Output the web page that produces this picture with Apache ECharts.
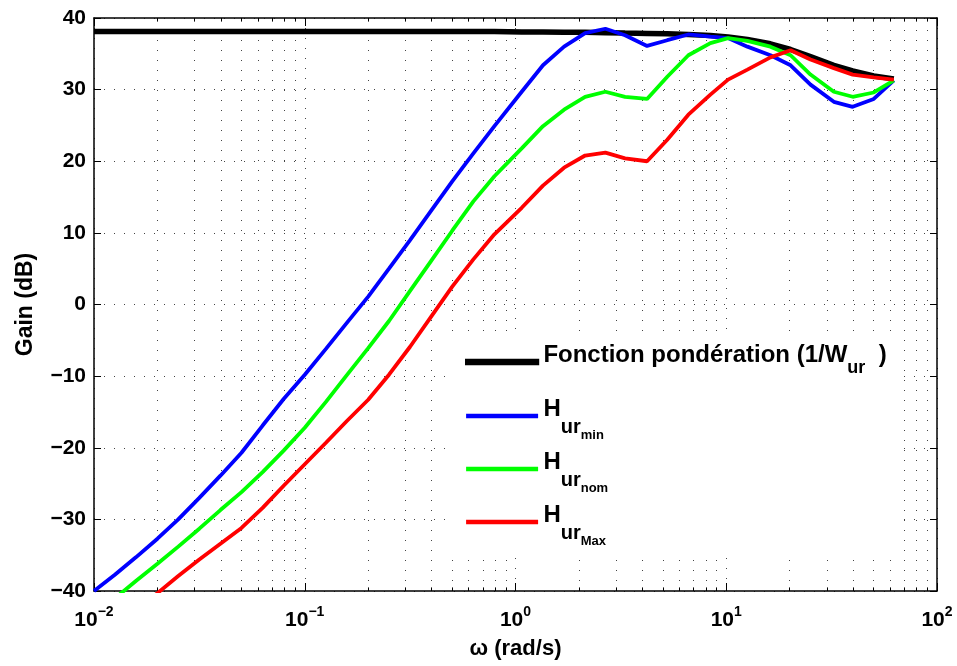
<!DOCTYPE html>
<html><head><meta charset="utf-8">
<script src="https://cdn.jsdelivr.net/npm/echarts@6/dist/echarts.min.js"></script>
<style>html,body{margin:0;padding:0;background:#fff}#c{width:957px;height:666px}</style>
</head><body><div id="c"></div>
<script>
// frequency points (rad/s)
const omega = [0.01, 0.0126, 0.0158, 0.02, 0.0251, 0.0316, 0.0398, 0.0501, 0.0631, 0.0794,
  0.1, 0.126, 0.158, 0.2, 0.251, 0.316, 0.398, 0.501, 0.631, 0.794,
  1.07, 1.35, 1.70, 2.14, 2.67, 3.31, 4.21, 5.25, 6.61, 8.41,
  10.2, 12.6, 16.2, 20.2, 25.1, 32.4, 39.8, 50.1, 62.4];
// weighting function 1/W_ur (dB)
const gainW = [38.1, 38.1, 38.1, 38.1, 38.1, 38.1, 38.1, 38.1, 38.1, 38.1,
  38.1, 38.1, 38.1, 38.1, 38.1, 38.1, 38.1, 38.1, 38.1, 38.1,
  38.05, 38.05, 38.0, 38.0, 37.95, 37.9, 37.85, 37.8, 37.7, 37.55,
  37.35, 37.0, 36.4, 35.6, 34.6, 33.4, 32.6, 31.9, 31.5];
// H_ur min
const gainMin = [-40, -37.7, -35.3, -32.7, -30.0, -27.0, -23.9, -20.7, -16.9, -13.2,
  -9.8, -6.2, -2.6, 1.1, 5.0, 9.0, 13.1, 17.2, 21.1, 24.9,
  29.7, 33.4, 36.0, 37.9, 38.5, 37.6, 36.1, 36.9, 37.7, 37.4,
  37.2, 36.0, 34.8, 33.4, 30.7, 28.3, 27.6, 28.7, 31.3];
// H_ur nom
const gainNom = [-43.5, -41.0, -38.6, -36.2, -33.8, -31.3, -28.7, -26.2, -23.4, -20.4,
  -17.2, -13.6, -9.9, -6.1, -2.3, 1.9, 6.1, 10.3, 14.4, 17.9,
  21.8, 24.9, 27.2, 29.0, 29.7, 29.0, 28.7, 31.8, 34.8, 36.5,
  37.2, 36.8, 36.0, 34.8, 32.1, 29.7, 29.0, 29.6, 31.3];
// H_ur Max
const gainMax = [-47.5, -45.0, -42.6, -40.3, -37.9, -35.6, -33.4, -31.2, -28.4, -25.3,
  -22.3, -19.3, -16.3, -13.3, -9.8, -5.9, -1.7, 2.5, 6.3, 9.8,
  13.5, 16.6, 19.1, 20.8, 21.2, 20.4, 20.0, 23.0, 26.5, 29.3,
  31.4, 32.8, 34.5, 35.5, 34.2, 33.0, 32.1, 31.7, 31.4];

const seriesNames = ['W', 'Hmin', 'Hnom', 'HMax'];
const seriesColors = ['#000000', '#0000ff', '#00ff00', '#ff0000'];
const legendLabels = {
  W: '{z| }{t|Fonction pondération (1/W}{s1|ur}{t|  )}',
  Hmin: '{z| }{t|H}{s2|ur}{s3|min}',
  Hnom: '{z| }{t|H}{s2|ur}{s3|nom}',
  HMax: '{z| }{t|H}{s2|ur}{s3|Max}'
};
const yMin = -40, yMax = 40, yStep = 10;
const xMin = 0.01, xMax = 100;

const FONT = '"Liberation Sans", Arial, Helvetica, sans-serif';
const minorVals = [];
for (let d = -2; d < 2; d++) for (let k = 2; k <= 9; k++) minorVals.push(+(k * Math.pow(10, d)).toPrecision(3));

const pairs = arr => omega.map((w, i) => [w, arr[i]]);
const gains = [gainW, gainMin, gainNom, gainMax];
const widths = [5.5, 3.8, 3.8, 3.8];

const dotted = {color: '#444', width: 1, type: [1, 9]};
const markData = [];
minorVals.forEach(v => markData.push({xAxis: v, lineStyle: dotted}));
minorVals.forEach(v => {
  markData.push([{coord: [v, yMin], lineStyle: {color: '#000', width: 1, type: 'solid'}}, {coord: [v, yMin + 0.5]}]);
  markData.push([{coord: [v, yMax], lineStyle: {color: '#000', width: 1, type: 'solid'}}, {coord: [v, yMax - 0.5]}]);
});

const supLabel = v => {
  const e = Math.round(Math.log10(v));
  return '{b|10}{p|' + (e < 0 ? '\u2212' : '') + Math.abs(e) + '}';
};

const series = [{
  name: 'grid', type: 'line', data: [], silent: true, z: 1,
  markLine: {silent: true, symbol: ['none', 'none'], label: {show: false}, animation: false, z: 1,
    emphasis: {disabled: true}, data: markData}
}];
seriesNames.forEach((n, i) => series.push({
  name: n, type: 'line', data: pairs(gains[i]), showSymbol: false, symbol: 'none',
  lineStyle: {color: seriesColors[i], width: widths[i]}, itemStyle: {color: seriesColors[i]},
  z: 2 + i, clip: true, silent: true
}));

const legendData = seriesNames.map((n, i) => ({
  name: n, icon: 'rect',
  itemStyle: {color: seriesColors[i], borderColor: seriesColors[i], borderWidth: i === 0 ? 2.2 : 0}
}));

const txt = (size, extra) => Object.assign({fontSize: size, fontWeight: 'bold', fontFamily: FONT, color: '#000'}, extra);

const chart = echarts.init(document.getElementById('c'));
chart.setOption({
  animation: false,
  textStyle: {fontFamily: FONT},
  grid: {left: 94, right: 20, top: 18, bottom: 75},
  xAxis: [{
    type: 'log', logBase: 10, min: xMin, max: xMax, position: 'bottom',
    name: 'ω (rad/s)', nameLocation: 'middle', nameGap: 47,
    nameTextStyle: txt(22),
    axisLine: {show: true, onZero: false, lineStyle: {color: '#000', width: 1.5}},
    axisTick: {show: true, inside: true, length: 8, lineStyle: {color: '#000', width: 1}},
    axisLabel: {margin: 14, color: '#000', formatter: supLabel,
      rich: {
        b: txt(21, {lineHeight: 24, verticalAlign: 'top', padding: [5, 0, 0, 0]}),
        p: txt(14, {lineHeight: 14, verticalAlign: 'top'})
      }},
    splitLine: {show: true, lineStyle: dotted}
  }, {
    type: 'log', logBase: 10, min: xMin, max: xMax, position: 'top',
    axisLine: {show: true, onZero: false, lineStyle: {color: '#000', width: 1.5}},
    axisTick: {show: true, inside: true, length: 8, lineStyle: {color: '#000', width: 1}},
    axisLabel: {show: false}, splitLine: {show: false}
  }],
  yAxis: [{
    type: 'value', min: yMin, max: yMax, interval: yStep, position: 'left',
    name: 'Gain (dB)', nameLocation: 'middle', nameGap: 57,
    nameTextStyle: txt(23),
    axisLine: {show: true, onZero: false, lineStyle: {color: '#000', width: 1.5}},
    axisTick: {show: true, inside: true, length: 7, lineStyle: {color: '#000', width: 1}},
    axisLabel: Object.assign({margin: 8, formatter: v => (v < 0 ? '\u2212' + (-v) : String(v))}, txt(21)),
    splitLine: {show: true, lineStyle: dotted}
  }, {
    type: 'value', min: yMin, max: yMax, interval: yStep, position: 'right',
    axisLine: {show: true, onZero: false, lineStyle: {color: '#000', width: 1.5}},
    axisTick: {show: true, inside: true, length: 7, lineStyle: {color: '#000', width: 1}},
    axisLabel: {show: false}, splitLine: {show: false}
  }],
  legend: {
    data: legendData, orient: 'vertical', left: 448, top: 335,
    padding: [8, 14, 8, 17], backgroundColor: '#fff',
    itemWidth: 72, itemHeight: 4.5, itemGap: 8, selectedMode: false,
    formatter: n => legendLabels[n],
    textStyle: {fontFamily: FONT, fontWeight: 'bold', color: '#000',
      rich: {
        z: txt(1, {lineHeight: 38}),
        t: txt(24, {lineHeight: 26, verticalAlign: 'top'}),
        s1: txt(18, {lineHeight: 18, verticalAlign: 'top', padding: [16, 0, 12, 0]}),
        s2: txt(20, {lineHeight: 20, verticalAlign: 'top', padding: [20, 0, 0, 0]}),
        s3: txt(13, {lineHeight: 13, verticalAlign: 'top', padding: [32, 0, 0, 0]})
      }}
  },
  series: series
});
</script></body></html>
